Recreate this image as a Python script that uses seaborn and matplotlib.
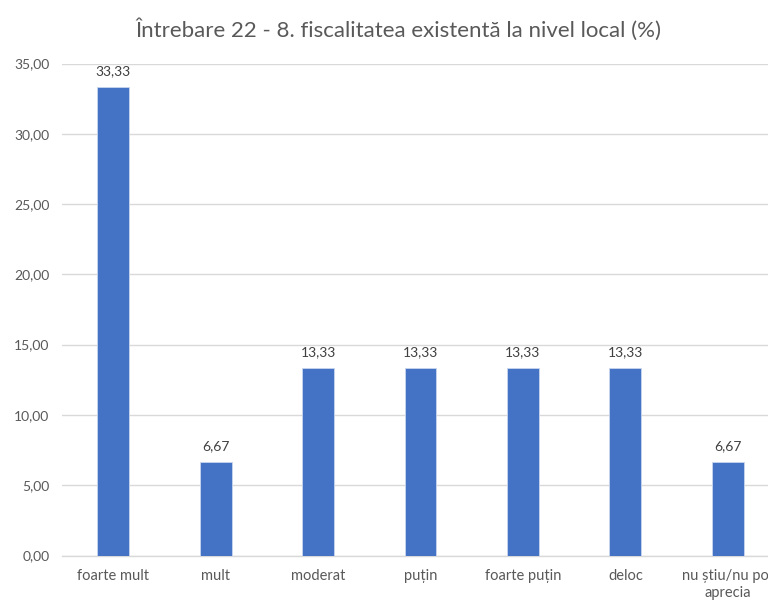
import matplotlib
matplotlib.use("Agg")
import matplotlib.pyplot as plt
import seaborn as sns
import pandas as pd

categories = ["foarte mult", "mult", "moderat", "puțin", "foarte puțin", "deloc", "nu știu/nu pot\naprecia"]
values = [33.33, 6.67, 13.33, 13.33, 13.33, 13.33, 6.67]
yticks = [0, 5, 10, 15, 20, 25, 30, 35]
title = "Întrebare 22 - 8. fiscalitatea existentă la nivel local (%)"

sns.set_theme(style="white")
plt.rcParams["font.family"] = ["Lato", "DejaVu Sans"]

df = pd.DataFrame({"categorie": categories, "procent": values})

fig = plt.figure(figsize=(7.68, 6.02), dpi=100)
ax = fig.add_axes([62 / 768, 46.5 / 602, (779 - 62) / 768, (555.5 - 63.5) / 602])

sns.barplot(data=df, x="categorie", y="procent", color="#4472C4", saturation=1,
            width=0.31, ax=ax, zorder=3)
for p in ax.patches:
    p.set_edgecolor("#c9d6ee")
    p.set_linewidth(0.6)

ax.set_ylim(0, 35)
ax.set_xlim(-0.5, len(categories) - 0.5)
ax.set_yticks(yticks)
ax.set_yticklabels([f"{v:.2f}".replace(".", ",") for v in yticks], fontsize=10, color="#595959")
ax.tick_params(axis="y", length=0, pad=9)
ax.tick_params(axis="x", length=0, pad=10, labelsize=10.5, labelcolor="#595959")
for lbl in ax.get_xticklabels():
    lbl.set_linespacing(1.25)
ax.set_xlabel("")
ax.set_ylabel("")
ax.grid(axis="y", color="#d9d9d9", linewidth=1, zorder=0)
ax.grid(axis="x", visible=False)
for side in ["top", "right", "left"]:
    ax.spines[side].set_visible(False)
ax.spines["bottom"].set_color("#d9d9d9")
ax.spines["bottom"].set_linewidth(1)

for i, v in enumerate(values):
    ax.annotate(f"{v:.2f}".replace(".", ","), (i, v), xytext=(0, 7), textcoords="offset points",
                ha="center", va="bottom", fontsize=10, color="#404040")

fig.text(398 / 768, 1 - 30 / 602, title, ha="center", va="center", fontsize=16, color="#595959")

fig.savefig("out.png", dpi=100)
